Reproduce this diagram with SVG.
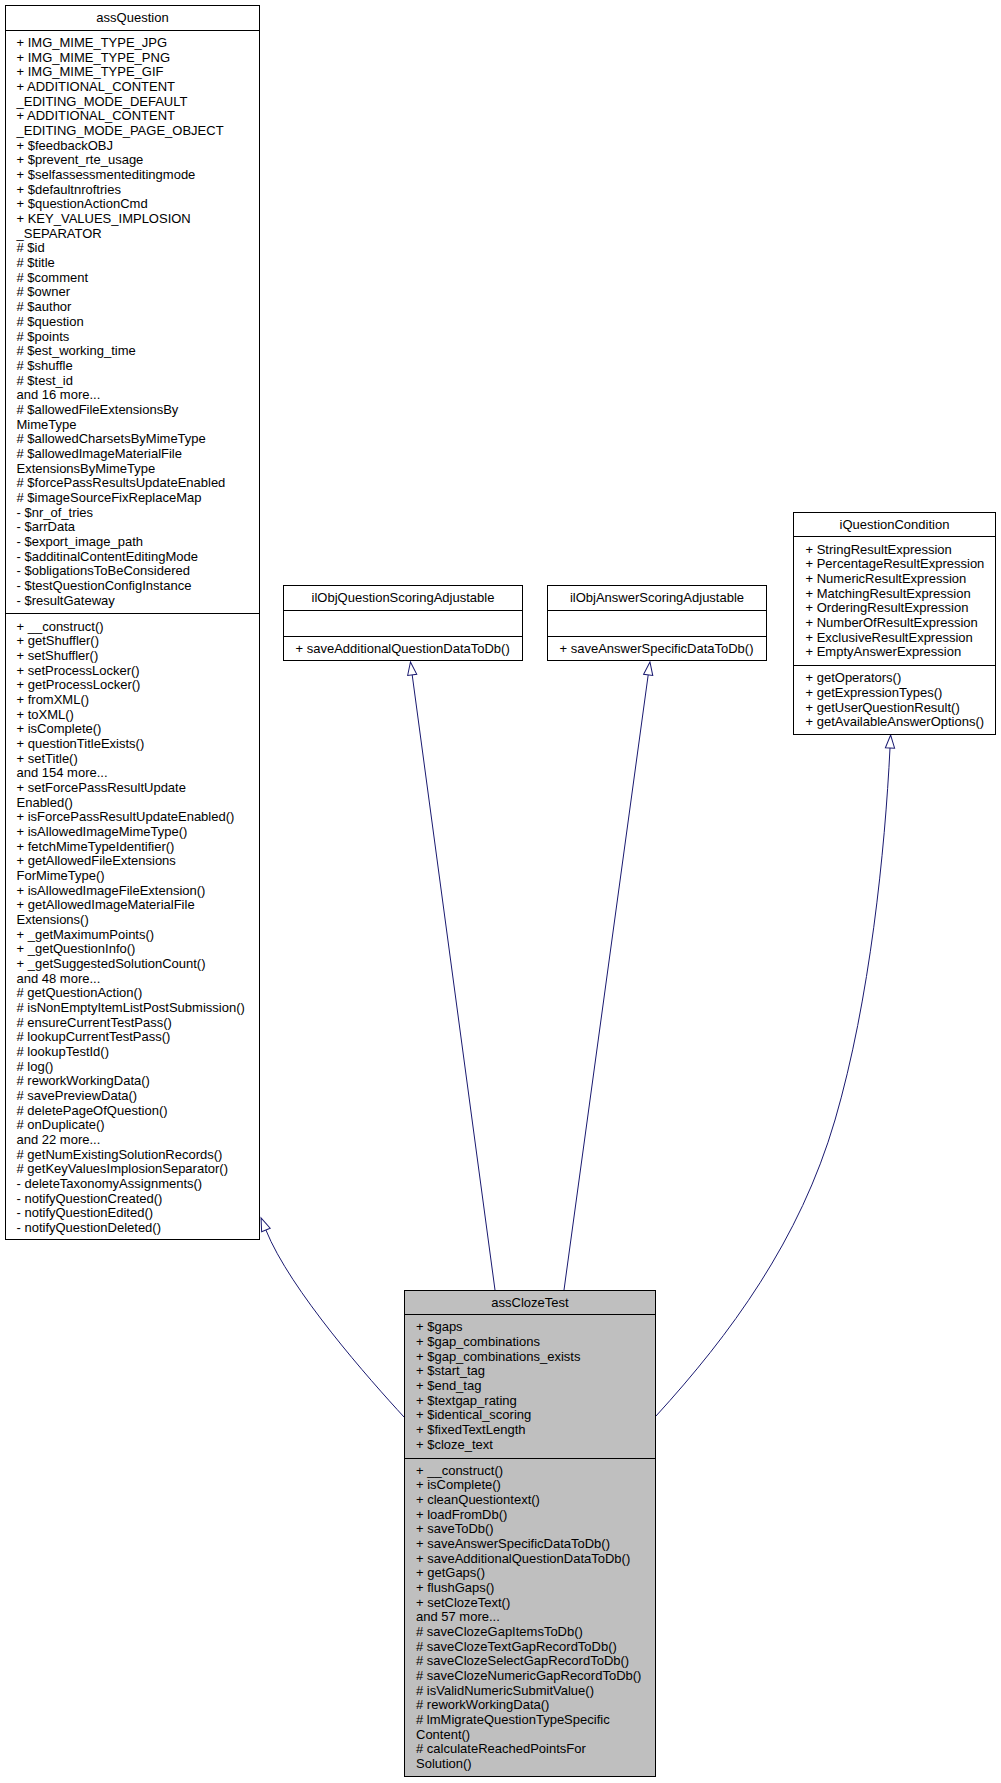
<svg xmlns="http://www.w3.org/2000/svg" width="1001" height="1783" viewBox="0 0 1001 1783">
<style>
  .box { fill: #ffffff; stroke: #000000; stroke-width: 1; }
  .cur { fill: #bfbfbf; stroke: #000000; stroke-width: 1; }
  .sep { stroke: #000000; stroke-width: 1; }
  text { font-family: "Liberation Sans", Arial, sans-serif; font-size: 13px; fill: #000000; }
  .title { text-anchor: middle; }
  .edge { fill: none; stroke: #191970; stroke-width: 1; }
</style>
<defs>
  <marker id="inh" markerUnits="userSpaceOnUse" markerWidth="16" markerHeight="12" refX="0" refY="0" viewBox="-1 -6 16 12" orient="auto" overflow="visible">
    <path d="M0,-4.6 L13,0 L0,4.6 Z" fill="#ffffff" stroke="#191970" stroke-width="1"/>
  </marker>
</defs>
<rect width="1001" height="1783" fill="#ffffff"/>

<g id="edges">
  <path class="edge" marker-end="url(#inh)" d="M404,1417 C370,1380 290,1290 265.9,1230"/>
  <path class="edge" marker-end="url(#inh)" d="M495,1290 L412.2,674.9"/>
  <path class="edge" marker-end="url(#inh)" d="M564,1290 L648.2,674.9"/>
  <path class="edge" marker-end="url(#inh)" d="M656,1416 C730,1335 800,1240 835,1120 C870,1000 885,850 890,748"/>
</g>

<g id="assQuestion">
  <rect class="box" x="5.5" y="5.5" width="254" height="1234"/>
  <line class="sep" x1="5.5" y1="30.5" x2="259.5" y2="30.5"/>
  <line class="sep" x1="5.5" y1="613.5" x2="259.5" y2="613.5"/>
  <text class="title" x="132.5" y="22">assQuestion</text>
  <text x="16.5" y="47.1">
    <tspan x="16.5" dy="0">+ IMG_MIME_TYPE_JPG</tspan>
    <tspan x="16.5" dy="14.67">+ IMG_MIME_TYPE_PNG</tspan>
    <tspan x="16.5" dy="14.67">+ IMG_MIME_TYPE_GIF</tspan>
    <tspan x="16.5" dy="14.67">+ ADDITIONAL_CONTENT</tspan>
    <tspan x="16.5" dy="14.67">_EDITING_MODE_DEFAULT</tspan>
    <tspan x="16.5" dy="14.67">+ ADDITIONAL_CONTENT</tspan>
    <tspan x="16.5" dy="14.67">_EDITING_MODE_PAGE_OBJECT</tspan>
    <tspan x="16.5" dy="14.67">+ $feedbackOBJ</tspan>
    <tspan x="16.5" dy="14.67">+ $prevent_rte_usage</tspan>
    <tspan x="16.5" dy="14.67">+ $selfassessmenteditingmode</tspan>
    <tspan x="16.5" dy="14.67">+ $defaultnroftries</tspan>
    <tspan x="16.5" dy="14.67">+ $questionActionCmd</tspan>
    <tspan x="16.5" dy="14.67">+ KEY_VALUES_IMPLOSION</tspan>
    <tspan x="16.5" dy="14.67">_SEPARATOR</tspan>
    <tspan x="16.5" dy="14.67"># $id</tspan>
    <tspan x="16.5" dy="14.67"># $title</tspan>
    <tspan x="16.5" dy="14.67"># $comment</tspan>
    <tspan x="16.5" dy="14.67"># $owner</tspan>
    <tspan x="16.5" dy="14.67"># $author</tspan>
    <tspan x="16.5" dy="14.67"># $question</tspan>
    <tspan x="16.5" dy="14.67"># $points</tspan>
    <tspan x="16.5" dy="14.67"># $est_working_time</tspan>
    <tspan x="16.5" dy="14.67"># $shuffle</tspan>
    <tspan x="16.5" dy="14.67"># $test_id</tspan>
    <tspan x="16.5" dy="14.67">and 16 more...</tspan>
    <tspan x="16.5" dy="14.67"># $allowedFileExtensionsBy</tspan>
    <tspan x="16.5" dy="14.67">MimeType</tspan>
    <tspan x="16.5" dy="14.67"># $allowedCharsetsByMimeType</tspan>
    <tspan x="16.5" dy="14.67"># $allowedImageMaterialFile</tspan>
    <tspan x="16.5" dy="14.67">ExtensionsByMimeType</tspan>
    <tspan x="16.5" dy="14.67"># $forcePassResultsUpdateEnabled</tspan>
    <tspan x="16.5" dy="14.67"># $imageSourceFixReplaceMap</tspan>
    <tspan x="16.5" dy="14.67">- $nr_of_tries</tspan>
    <tspan x="16.5" dy="14.67">- $arrData</tspan>
    <tspan x="16.5" dy="14.67">- $export_image_path</tspan>
    <tspan x="16.5" dy="14.67">- $additinalContentEditingMode</tspan>
    <tspan x="16.5" dy="14.67">- $obligationsToBeConsidered</tspan>
    <tspan x="16.5" dy="14.67">- $testQuestionConfigInstance</tspan>
    <tspan x="16.5" dy="14.67">- $resultGateway</tspan>
  </text>
  <text x="16.5" y="630.5">
    <tspan x="16.5" dy="0">+ __construct()</tspan>
    <tspan x="16.5" dy="14.67">+ getShuffler()</tspan>
    <tspan x="16.5" dy="14.67">+ setShuffler()</tspan>
    <tspan x="16.5" dy="14.67">+ setProcessLocker()</tspan>
    <tspan x="16.5" dy="14.67">+ getProcessLocker()</tspan>
    <tspan x="16.5" dy="14.67">+ fromXML()</tspan>
    <tspan x="16.5" dy="14.67">+ toXML()</tspan>
    <tspan x="16.5" dy="14.67">+ isComplete()</tspan>
    <tspan x="16.5" dy="14.67">+ questionTitleExists()</tspan>
    <tspan x="16.5" dy="14.67">+ setTitle()</tspan>
    <tspan x="16.5" dy="14.67">and 154 more...</tspan>
    <tspan x="16.5" dy="14.67">+ setForcePassResultUpdate</tspan>
    <tspan x="16.5" dy="14.67">Enabled()</tspan>
    <tspan x="16.5" dy="14.67">+ isForcePassResultUpdateEnabled()</tspan>
    <tspan x="16.5" dy="14.67">+ isAllowedImageMimeType()</tspan>
    <tspan x="16.5" dy="14.67">+ fetchMimeTypeIdentifier()</tspan>
    <tspan x="16.5" dy="14.67">+ getAllowedFileExtensions</tspan>
    <tspan x="16.5" dy="14.67">ForMimeType()</tspan>
    <tspan x="16.5" dy="14.67">+ isAllowedImageFileExtension()</tspan>
    <tspan x="16.5" dy="14.67">+ getAllowedImageMaterialFile</tspan>
    <tspan x="16.5" dy="14.67">Extensions()</tspan>
    <tspan x="16.5" dy="14.67">+ _getMaximumPoints()</tspan>
    <tspan x="16.5" dy="14.67">+ _getQuestionInfo()</tspan>
    <tspan x="16.5" dy="14.67">+ _getSuggestedSolutionCount()</tspan>
    <tspan x="16.5" dy="14.67">and 48 more...</tspan>
    <tspan x="16.5" dy="14.67"># getQuestionAction()</tspan>
    <tspan x="16.5" dy="14.67"># isNonEmptyItemListPostSubmission()</tspan>
    <tspan x="16.5" dy="14.67"># ensureCurrentTestPass()</tspan>
    <tspan x="16.5" dy="14.67"># lookupCurrentTestPass()</tspan>
    <tspan x="16.5" dy="14.67"># lookupTestId()</tspan>
    <tspan x="16.5" dy="14.67"># log()</tspan>
    <tspan x="16.5" dy="14.67"># reworkWorkingData()</tspan>
    <tspan x="16.5" dy="14.67"># savePreviewData()</tspan>
    <tspan x="16.5" dy="14.67"># deletePageOfQuestion()</tspan>
    <tspan x="16.5" dy="14.67"># onDuplicate()</tspan>
    <tspan x="16.5" dy="14.67">and 22 more...</tspan>
    <tspan x="16.5" dy="14.67"># getNumExistingSolutionRecords()</tspan>
    <tspan x="16.5" dy="14.67"># getKeyValuesImplosionSeparator()</tspan>
    <tspan x="16.5" dy="14.67">- deleteTaxonomyAssignments()</tspan>
    <tspan x="16.5" dy="14.67">- notifyQuestionCreated()</tspan>
    <tspan x="16.5" dy="14.67">- notifyQuestionEdited()</tspan>
    <tspan x="16.5" dy="14.67">- notifyQuestionDeleted()</tspan>
  </text>
</g>

<g id="ilObjQuestionScoringAdjustable">
  <rect class="box" x="283.5" y="585.5" width="239" height="75"/>
  <line class="sep" x1="283.5" y1="610.5" x2="522.5" y2="610.5"/>
  <line class="sep" x1="283.5" y1="636.5" x2="522.5" y2="636.5"/>
  <text class="title" x="403" y="602">ilObjQuestionScoringAdjustable</text>
  <text x="295.5" y="653">+ saveAdditionalQuestionDataToDb()</text>
</g>

<g id="ilObjAnswerScoringAdjustable">
  <rect class="box" x="547.5" y="585.5" width="219" height="75"/>
  <line class="sep" x1="547.5" y1="610.5" x2="766.5" y2="610.5"/>
  <line class="sep" x1="547.5" y1="636.5" x2="766.5" y2="636.5"/>
  <text class="title" x="657" y="602">ilObjAnswerScoringAdjustable</text>
  <text x="559.5" y="653">+ saveAnswerSpecificDataToDb()</text>
</g>

<g id="iQuestionCondition">
  <rect class="box" x="793.5" y="512.5" width="202" height="222"/>
  <line class="sep" x1="793.5" y1="536.5" x2="995.5" y2="536.5"/>
  <line class="sep" x1="793.5" y1="665.5" x2="995.5" y2="665.5"/>
  <text class="title" x="894.5" y="528.5">iQuestionCondition</text>
  <text x="805.5" y="553.5">
    <tspan x="805.5" dy="0">+ StringResultExpression</tspan>
    <tspan x="805.5" dy="14.67">+ PercentageResultExpression</tspan>
    <tspan x="805.5" dy="14.67">+ NumericResultExpression</tspan>
    <tspan x="805.5" dy="14.67">+ MatchingResultExpression</tspan>
    <tspan x="805.5" dy="14.67">+ OrderingResultExpression</tspan>
    <tspan x="805.5" dy="14.67">+ NumberOfResultExpression</tspan>
    <tspan x="805.5" dy="14.67">+ ExclusiveResultExpression</tspan>
    <tspan x="805.5" dy="14.67">+ EmptyAnswerExpression</tspan>
  </text>
  <text x="805.5" y="682.2">
    <tspan x="805.5" dy="0">+ getOperators()</tspan>
    <tspan x="805.5" dy="14.67">+ getExpressionTypes()</tspan>
    <tspan x="805.5" dy="14.67">+ getUserQuestionResult()</tspan>
    <tspan x="805.5" dy="14.67">+ getAvailableAnswerOptions()</tspan>
  </text>
</g>

<g id="assClozeTest">
  <rect class="cur" x="404.5" y="1290.5" width="251" height="486"/>
  <line class="sep" x1="404.5" y1="1314.5" x2="655.5" y2="1314.5"/>
  <line class="sep" x1="404.5" y1="1458.5" x2="655.5" y2="1458.5"/>
  <text class="title" x="530" y="1306.5">assClozeTest</text>
  <text x="416" y="1331.2">
    <tspan x="416" dy="0">+ $gaps</tspan>
    <tspan x="416" dy="14.67">+ $gap_combinations</tspan>
    <tspan x="416" dy="14.67">+ $gap_combinations_exists</tspan>
    <tspan x="416" dy="14.67">+ $start_tag</tspan>
    <tspan x="416" dy="14.67">+ $end_tag</tspan>
    <tspan x="416" dy="14.67">+ $textgap_rating</tspan>
    <tspan x="416" dy="14.67">+ $identical_scoring</tspan>
    <tspan x="416" dy="14.67">+ $fixedTextLength</tspan>
    <tspan x="416" dy="14.67">+ $cloze_text</tspan>
  </text>
  <text x="416" y="1474.5">
    <tspan x="416" dy="0">+ __construct()</tspan>
    <tspan x="416" dy="14.67">+ isComplete()</tspan>
    <tspan x="416" dy="14.67">+ cleanQuestiontext()</tspan>
    <tspan x="416" dy="14.67">+ loadFromDb()</tspan>
    <tspan x="416" dy="14.67">+ saveToDb()</tspan>
    <tspan x="416" dy="14.67">+ saveAnswerSpecificDataToDb()</tspan>
    <tspan x="416" dy="14.67">+ saveAdditionalQuestionDataToDb()</tspan>
    <tspan x="416" dy="14.67">+ getGaps()</tspan>
    <tspan x="416" dy="14.67">+ flushGaps()</tspan>
    <tspan x="416" dy="14.67">+ setClozeText()</tspan>
    <tspan x="416" dy="14.67">and 57 more...</tspan>
    <tspan x="416" dy="14.67"># saveClozeGapItemsToDb()</tspan>
    <tspan x="416" dy="14.67"># saveClozeTextGapRecordToDb()</tspan>
    <tspan x="416" dy="14.67"># saveClozeSelectGapRecordToDb()</tspan>
    <tspan x="416" dy="14.67"># saveClozeNumericGapRecordToDb()</tspan>
    <tspan x="416" dy="14.67"># isValidNumericSubmitValue()</tspan>
    <tspan x="416" dy="14.67"># reworkWorkingData()</tspan>
    <tspan x="416" dy="14.67"># lmMigrateQuestionTypeSpecific</tspan>
    <tspan x="416" dy="14.67">Content()</tspan>
    <tspan x="416" dy="14.67"># calculateReachedPointsFor</tspan>
    <tspan x="416" dy="14.67">Solution()</tspan>
  </text>
</g>
</svg>
